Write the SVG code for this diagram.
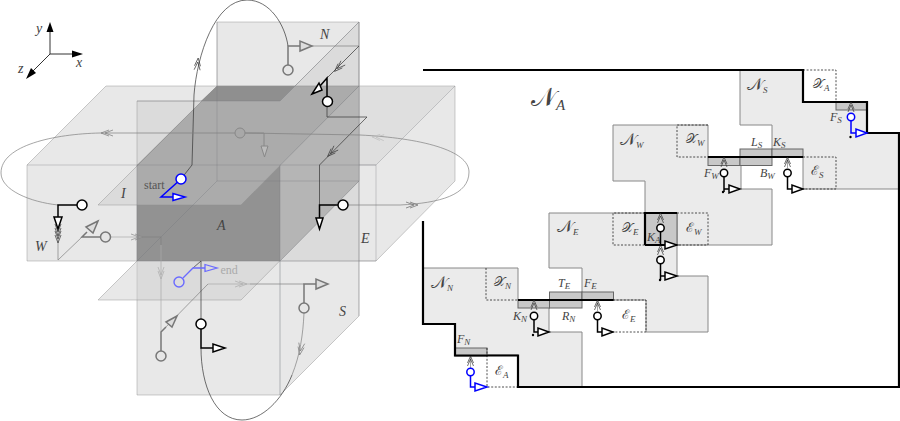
<svg xmlns="http://www.w3.org/2000/svg" width="900" height="421" viewBox="0 0 900 421">
<style>
.pl{fill:#cbcbcb;fill-opacity:.44;stroke:#8f8f8f;stroke-opacity:.45;stroke-width:1}
.ln{fill:none;stroke:#70767c;stroke-opacity:.4;stroke-width:.8}
.c1{fill:none;stroke:#333;stroke-width:.7}
.c2{fill:none;stroke:#808080;stroke-width:.7}
.c3{fill:none;stroke:#aaa;stroke-width:.7}
.tb{fill:none;stroke:#000;stroke-width:1.5}
.tg{fill:none;stroke:#777;stroke-width:1.5}
.tl{fill:none;stroke:#6a6aff;stroke-width:1.3}
.tu{fill:none;stroke:#00f;stroke-width:1.5}
.nb{fill:#fff;stroke:#000;stroke-width:1.5}
.ng{fill:#e6e6e6;stroke:#777;stroke-width:1.5}
.nu{fill:#fff;stroke:#00f;stroke-width:1.5}
.nl{fill:#ddd;stroke:#6a6aff;stroke-width:1.4}
.reg{fill:#ebebeb;stroke:#888;stroke-width:1}
.bar{fill:#c8c8c8;stroke:#666;stroke-width:1}
.dash{fill:none;stroke:#222;stroke-width:.8;stroke-dasharray:2 1.6}
.heavy{fill:none;stroke:#000;stroke-width:2.2}
text{font-family:"Liberation Serif","DejaVu Serif",serif;fill:#444}
.i{font-style:italic;font-size:14px}
.m{font-size:17px}
.x{font-size:13px}
.f{font-style:italic;font-size:12px}
.s{font-size:9px;font-style:italic}
.r{font-size:12px}
</style>
<defs>
<path id="dbl" d="M-6,-3 L2,0 L-6,3 M-10,-3 L-2,0 L-10,3" fill="none" stroke-width=".7"/>
<path id="up" d="M-6,-3 L1,0 L-6,3 M-9,-3 L-2,0 L-9,3" fill="none" stroke-width=".7"/>
</defs>

<g id="axes">
<path d="M50,54V28M50,54H76M50,54L33,71" stroke="#333" stroke-width="1" fill="none"/>
<polygon points="50,22 46.500,32 53.500,32" fill="#000"/>
<polygon points="83,54 72,50.500 72,57.500" fill="#000"/>
<polygon points="26,79 31,68 36,73" fill="#000"/>
<text class="i" x="36" y="33">y</text>
<text class="i" x="76" y="67">x</text>
<text class="i" x="18" y="73">z</text>
</g>

<g id="planes">
<polygon class="pl" points="27,165 106,86 455,86 455,181 376,261 27,261"/>
<polygon points="359,86 455,86 376,165 359,165" fill="#cbcbcb" fill-opacity=".3"/>
<polygon class="pl" points="217,22 359,22 359,181 217,181"/>
<polygon class="pl" points="137,101 280,101 359,22 359,316 280,395 137,395"/>
<polygon class="pl" points="98,300 217,181 359,181 241,300"/>
<path class="ln" d="M27,165H376L455,86M376,165V261"/>
<path class="ln" d="M280,261V395" style="stroke-width:1.2"/>
<polygon points="137,165 280,165 280,261 137,261" fill="#929292"/>
<polygon points="137,165 217,86 359,86 280,165" fill="#929292"/>
<polygon points="280,165 359,86 359,181 280,261" fill="#b5b5b5"/>
<polygon class="pl" points="98,205 217,86 359,86 241,205"/>
<polygon points="217,86 295,86 280,101 201,101" fill="#8f8f8f"/>
<path class="ln" d="M217,22V181H359M217,181L137,261M137,165H376M137,165V261H376M280,165V261M137,101H280L359,22M280,165L359,86M280,261L359,181M359,22V316"/>
</g>

<g id="labels3d">
<text class="i" x="320" y="39">N</text>
<text class="i" x="121" y="198">I</text>
<text class="i" x="35" y="251">W</text>
<text class="i" x="217" y="230">A</text>
<text class="i" x="361" y="243">E</text>
<text class="i" x="339" y="316">S</text>
<text class="r" x="144" y="189" style="fill:#555">start</text>
<text class="r" x="220.500" y="274" style="fill:#aaa">end</text>
</g>

<g id="connectors">
<path class="c1" d="M181,179L192,165L194,95C197,55 215,0 247,0C270,0 285,25 288,46"/>
<path class="c2" d="M312,46H359"/>
<path class="c1" d="M359,46L327,78"/>
<path class="c1" d="M327,107V117H367L319.500,165V205"/>
<path class="c2" d="M348,205H400C440,203 469,195 469,172C469,150 420,138 360,135L245,133"/>
<path class="c2" d="M235,133H100C55,134 1,145 1,173C1,190 30,202 58,205"/>
<path class="c2" d="M58,229V260L82,237"/>
<path class="c3" d="M110,237H142"/>
<path class="c2" d="M142,237H161V245"/>
<path class="c3" d="M161,245V332"/>
<path class="c2" d="M161,332L208,284"/>
<path class="c3" d="M208,284H250"/>
<path class="c2" d="M250,284H304"/>
<path class="c2" d="M304,313C303,335 300,355 292,375"/>
<path class="c1" d="M292,375C282,400 262,420 242,420C215,420 201,385 201,348"/>
<path class="c1" d="M201,319V261L193,268"/>
<use href="#dbl" transform="translate(198,60) rotate(-85)" stroke="#333"/>
<use href="#dbl" transform="translate(336,70) rotate(135)" stroke="#333"/>
<use href="#dbl" transform="translate(329,155) rotate(135)" stroke="#333"/>
<use href="#dbl" transform="translate(416,205)" stroke="#666"/>
<use href="#dbl" transform="translate(374,137) rotate(184)" stroke="#bbb"/>
<use href="#dbl" transform="translate(103,133) rotate(180)" stroke="#777"/>
<use href="#dbl" transform="translate(58,234) rotate(90)" stroke="#333"/>
<use href="#dbl" transform="translate(58,241) rotate(90)" stroke="#333"/>
<use href="#dbl" transform="translate(141,237)" stroke="#888"/>
<use href="#dbl" transform="translate(161,277) rotate(90)" stroke="#aaa"/>
<use href="#dbl" transform="translate(245,284)" stroke="#aaa"/>
<use href="#dbl" transform="translate(300,353) rotate(100)" stroke="#777"/>

<path class="c2" d="M470.500,368V356C470.500,350 471,345 473,340C476,332 481,328 487,328C500,328 503,349 517,349C526,349 530,342 533,335"/>
<path class="c2" d="M534,311V300"/>
<path class="c2" d="M597.500,311V300C597.500,296 598,293 599,290C602,280 607,272 614,272C627,272 628,293 643,293C652,293 657,287 660,280"/>
<path class="c2" d="M660.500,256V245"/>
<path class="c2" d="M660.500,224V213C660.500,208 661,204 662,200C665,191 669,185 675,185C688,185 691,206 705,206C714,206 720,199 723,192"/>
<path class="c2" d="M724,168V157"/>
<path class="c2" d="M787.500,168V157C787.500,154 788,151 789,148C792,138 798,130 805,130C818,130 821,151 835,151C843,151 848,144 851,137"/>
<path class="c2" d="M851,113V102"/>
</g>

<g id="node-start">
<path class="tu" d="M181,179L161,197H173"/>
<polygon class="tu" points="173,193.500 173,200.500 185,197" style="fill:#fff"/>
<circle class="nu" cx="181" cy="179" r="5"/>
</g>
<g id="node-north">
<path class="tg" d="M288,65V46H300"/>
<polygon class="tg" points="300,41 300,51 312,46" style="fill:#ddd"/>
<circle class="ng" cx="288" cy="70" r="5"/>
</g>
<g id="node-north2">
<path class="tb" d="M327,96V78L320,86"/>
<polygon class="tb" points="312,94 322,90 319,83" style="fill:#fff"/>
<circle class="nb" cx="327.500" cy="101.500" r="5"/>
</g>
<g id="node-east">
<path class="tb" d="M338,205H319.500V218"/>
<polygon class="tb" points="316,218 323,218 319.500,229" style="fill:#fff"/>
<circle class="nb" cx="343" cy="205" r="5"/>
</g>
<g id="node-back">
<path class="tg" d="M245,133H264V146" style="stroke-width:1;stroke:#888"/>
<polygon class="tg" points="261,146 268,146 264.500,157" style="fill:#bbb;stroke-width:1;stroke:#888"/>
<circle class="ng" cx="240" cy="133" r="5" style="stroke-width:1;fill:#a8a8a8;stroke:#888"/>
</g>
<g id="node-west">
<path class="tb" d="M77,205H58V217"/>
<polygon class="tb" points="54,217 62,217 58,229" style="fill:#fff"/>
<circle class="nb" cx="82" cy="205" r="5"/>
</g>
<g id="node-west2">
<path class="tg" d="M100,237H82L87,232"/>
<polygon class="tg" points="98,221 86,227 93,233" style="fill:#ddd"/>
<circle class="ng" cx="105.500" cy="237" r="5"/>
</g>
<g id="node-south">
<path class="tg" d="M161,351V332L166,327"/>
<polygon class="tg" points="177,316 166,322 172,327" style="fill:#ddd"/>
<circle class="ng" cx="161" cy="356" r="5"/>
</g>
<g id="node-south2">
<path class="tg" d="M304,303V284H316"/>
<polygon class="tg" points="316,279 316,289 328,284" style="fill:#ddd"/>
<circle class="ng" cx="304" cy="308" r="5"/>
</g>
<g id="node-south3">
<path class="tb" d="M201,329V348H213"/>
<polygon class="tb" points="213,344 213,352 225,348" style="fill:#fff"/>
<circle class="nb" cx="201" cy="324" r="5"/>
</g>
<g id="node-end">
<path class="tl" d="M183,278L193,268H205"/>
<polygon class="tl" points="205,264.500 205,271.500 217,268"/>
<circle class="nl" cx="179" cy="282" r="5"/>
</g>

<g id="region-NN"><polygon class="reg" points="423,268 518,268 518,300 549,300 549,332 582,332 582,387 518,387 518,355 455,355 455,324 423,324"/></g>
<g id="region-NE"><polygon class="reg" points="549,213 645,213 645,245 677,245 677,276 708,276 708,332 646,332 646,300 582,300 582,268 549,268"/></g>
<g id="region-NW"><polygon class="reg" points="613,125 708,125 708,157 741,157 741,189 772,189 772,245 677,245 677,213 645,213 645,181 613,181"/></g>
<g id="region-NS"><polygon class="reg" points="740,70 803,70 803,102 867,102 867,133 899,133 899,189 803,189 803,157 772,157 772,125 740,125"/></g>

<g id="bars">
<rect class="bar" x="455" y="348" width="32" height="8"/>
<rect class="bar" x="518" y="300" width="31.500" height="8"/>
<rect class="bar" x="549.500" y="292" width="32.500" height="16"/>
<rect class="bar" x="582" y="292" width="31.500" height="8"/>
<rect class="bar" x="645" y="213" width="32" height="32"/>
<rect class="bar" x="708" y="157" width="32" height="8.500"/>
<rect class="bar" x="740" y="149" width="32" height="16.500"/>
<rect class="bar" x="772" y="149" width="31" height="8"/>
<rect class="bar" x="836" y="102" width="31" height="8"/>
</g>

<g id="dashed">
<path class="dash" d="M486,268V300H518"/>
<path class="dash" d="M487,348V387H518"/>
<path class="dash" d="M613,300H646V332H613"/>
<path class="dash" d="M645,213H613V245H645"/>
<path class="dash" d="M677,213H708V245H677"/>
<path class="dash" d="M708,125H677V157H708"/>
<path class="dash" d="M803,70H836V102"/>
<path class="dash" d="M803,157H836V189H803"/>
</g>

<g id="boundary">
<path class="heavy" d="M423,70H803V102H867V133H899V387H518V355.500H455V324H423V221"/>
<path class="heavy" d="M518,300H613.500M645,245H677M645,245V213H677M708,157H803"/>
</g>

<g id="labels-right">
<text x="531" y="106" class="m" style="font-size:26px">𝒩<tspan dy="4" style="font-size:15px;font-style:italic">A</tspan></text>
<text x="747" y="90" class="m">𝒩<tspan class="s" dy="3">S</tspan></text>
<text x="813" y="88" class="x">𝒳<tspan class="s" dy="3">A</tspan></text>
<text x="830" y="121" class="f">F<tspan class="s" dy="2">S</tspan></text>
<text x="751" y="146" class="f">L<tspan class="s" dy="2">S</tspan></text>
<text x="773" y="146" class="f">K<tspan class="s" dy="2">S</tspan></text>
<text x="760" y="177" class="f">B<tspan class="s" dy="2">W</tspan></text>
<text x="704" y="177" class="f">F<tspan class="s" dy="2">W</tspan></text>
<text x="620" y="145" class="m">𝒩<tspan class="s" dy="3">W</tspan></text>
<text x="686" y="143" class="x">𝒳<tspan class="s" dy="3">W</tspan></text>
<text x="557" y="232" class="m">𝒩<tspan class="s" dy="3">E</tspan></text>
<text x="622" y="232" class="x">𝒳<tspan class="s" dy="3">E</tspan></text>
<text x="686" y="232" class="x">ℰ<tspan class="s" dy="3">W</tspan></text>
<text x="647" y="241" class="f">K<tspan class="s" dy="2">A</tspan></text>
<text x="558" y="287" class="f">T<tspan class="s" dy="2">E</tspan></text>
<text x="584" y="287" class="f">F<tspan class="s" dy="2">E</tspan></text>
<text x="562" y="320" class="f">R<tspan class="s" dy="2">N</tspan></text>
<text x="513" y="320" class="f">K<tspan class="s" dy="2">N</tspan></text>
<text x="622" y="319" class="x">ℰ<tspan class="s" dy="3">E</tspan></text>
<text x="431" y="288" class="m">𝒩<tspan class="s" dy="3">N</tspan></text>
<text x="494" y="286" class="x">𝒳<tspan class="s" dy="3">N</tspan></text>
<text x="457" y="343" class="f">F<tspan class="s" dy="2">N</tspan></text>
<text x="495" y="375" class="x">ℰ<tspan class="s" dy="3">A</tspan></text>
<text x="811" y="175" class="x">ℰ<tspan class="s" dy="3">S</tspan></text>
</g>

<g id="node-fn">
<use href="#up" transform="translate(470.500,357) rotate(-90)" stroke="#333"/>
<path class="tu" d="M470.500,376V387H475"/>
<polygon class="tu" points="475,383 475,391 487,387" style="fill:#fff"/>
<circle class="nu" cx="470.500" cy="372" r="3.700"/>
</g>
<g id="node-kn">
<use href="#up" transform="translate(534,301) rotate(-90)" stroke="#333"/>
<path class="tb" d="M534,320V332H538"/>
<polygon class="tb" points="538,328 538,336 549,332" style="fill:#fff"/>
<circle class="nb" cx="534" cy="316" r="3.700"/>
<circle cx="533" cy="335" r="1.200"/>
</g>
<g id="node-fe">
<use href="#up" transform="translate(597.500,301) rotate(-90)" stroke="#333"/>
<path class="tb" d="M597.500,320V332H602"/>
<polygon class="tb" points="602,328 602,336 613,332" style="fill:#fff"/>
<circle class="nb" cx="597.500" cy="316" r="3.700"/>
</g>
<g id="node-mid">
<use href="#up" transform="translate(660.500,246) rotate(-90)" stroke="#333"/>
<path class="tb" d="M660.500,264V280M660.500,276H665"/>
<polygon class="tb" points="665,272 665,280 677,276" style="fill:#fff"/>
<circle class="nb" cx="660.500" cy="260" r="3.700"/>
<circle cx="660" cy="280" r="1.200"/>
</g>
<g id="node-ka">
<use href="#up" transform="translate(660.500,214) rotate(-90)" stroke="#333"/>
<path class="tb" d="M660.500,232V245H665"/>
<polygon class="tb" points="665,241 665,249 677,245" style="fill:#fff"/>
<circle class="nb" cx="660.500" cy="228" r="3.700"/>
</g>
<g id="node-fw">
<use href="#up" transform="translate(724,158) rotate(-90)" stroke="#333"/>
<path class="tb" d="M724,177V192M724,189H729"/>
<polygon class="tb" points="729,185 729,193 740,189" style="fill:#fff"/>
<circle class="nb" cx="724" cy="173" r="3.700"/>
<circle cx="723" cy="192" r="1.200"/>
</g>
<g id="node-bw">
<use href="#up" transform="translate(787.500,158) rotate(-90)" stroke="#333"/>
<path class="tb" d="M787.500,177V189H792"/>
<polygon class="tb" points="792,185 792,193 803,189" style="fill:#fff"/>
<circle class="nb" cx="787.500" cy="173" r="3.700"/>
</g>
<g id="node-fs">
<use href="#up" transform="translate(851,103) rotate(-90)" stroke="#333"/>
<path class="tu" d="M851,121V133H856"/>
<polygon class="tu" points="856,129 856,137 867,133" style="fill:#fff"/>
<circle class="nu" cx="851" cy="117" r="3.700"/>
<circle cx="850.500" cy="137" r="1.200"/>
</g>
</svg>
